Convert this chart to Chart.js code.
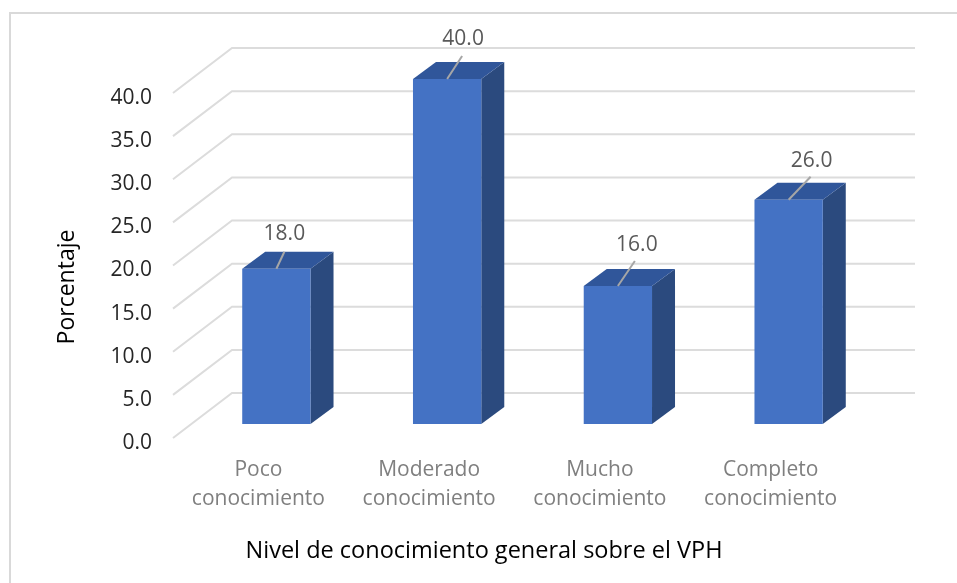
<!DOCTYPE html>
<html>
<head>
<meta charset="utf-8">
<style>
  html, body { margin: 0; background: #fff; }
  canvas { display: block; }
</style>
<script src="https://cdn.jsdelivr.net/npm/chart.js@4"></script>
</head>
<body>
<canvas id="canvas" width="957" height="583"></canvas>
<script>
const categories = [['Poco', 'conocimiento'], ['Moderado', 'conocimiento'], ['Mucho', 'conocimiento'], ['Completo', 'conocimiento']];
const values = [18, 40, 16, 26];
const yTicks = [0, 5, 10, 15, 20, 25, 30, 35, 40];

const yTitle = 'Porcentaje';
const xTitle = 'Nivel de conocimiento general sobre el VPH';

// wall offset of the fake 3D box, and bar depth
const wall = { dx: 59, dy: -45 };
const shift = { dx: 18, dy: -14 };
const depth = { dx: 23, dy: -17 };
// leader line end and label centre, relative to the front top middle of each bar
const leaders = [[8, -17, 8, -35], [15, -23, 16, -40], [17, -25, 19, -41], [22, -23, 23, -39]];

const fontName = '"Open Sans", sans-serif';

const box3d = {
    id: 'box3d',
    beforeDraw(chart) {
        const ctx = chart.ctx;
        ctx.save();
        ctx.strokeStyle = '#d9d9d9';
        ctx.lineWidth = 2;
        ctx.beginPath();
        ctx.moveTo(10, 583);
        ctx.lineTo(10, 13);
        ctx.lineTo(957, 13);
        ctx.stroke();
        ctx.restore();
    },
    beforeDatasetsDraw(chart) {
        const ctx = chart.ctx, y = chart.scales.y, area = chart.chartArea;
        ctx.save();
        // back wall grid lines
        ctx.strokeStyle = '#dcdcdc';
        ctx.lineWidth = 2;
        yTicks.forEach(t => {
            const py = y.getPixelForValue(t);
            ctx.beginPath();
            ctx.moveTo(area.left, py);
            ctx.lineTo(area.left + wall.dx, py + wall.dy);
            ctx.lineTo(area.right + wall.dx, py + wall.dy);
            ctx.stroke();
        });
        // side and top of the bars
        chart.getDatasetMeta(0).data.forEach(bar => {
            const p = bar.getProps(['x', 'y', 'base', 'width']);
            const l = p.x - p.width / 2 + shift.dx, r = p.x + p.width / 2 + shift.dx;
            const t = p.y + shift.dy, b = p.base + shift.dy;
            ctx.fillStyle = '#2b4a7e';
            ctx.beginPath();
            ctx.moveTo(r, t);
            ctx.lineTo(r + depth.dx, t + depth.dy);
            ctx.lineTo(r + depth.dx, b + depth.dy);
            ctx.lineTo(r, b);
            ctx.closePath();
            ctx.fill();
            ctx.fillStyle = '#30569a';
            ctx.beginPath();
            ctx.moveTo(l, t);
            ctx.lineTo(l + depth.dx, t + depth.dy);
            ctx.lineTo(r + depth.dx, t + depth.dy);
            ctx.lineTo(r, t);
            ctx.closePath();
            ctx.fill();
        });
        ctx.restore();
    },
    beforeDatasetDraw(chart) {
        chart.ctx.save();
        chart.ctx.translate(shift.dx, shift.dy);
    },
    afterDatasetDraw(chart) {
        chart.ctx.restore();
    },
    afterDatasetsDraw(chart) {
        const ctx = chart.ctx;
        ctx.save();
        ctx.textAlign = 'center';
        ctx.textBaseline = 'middle';
        ctx.font = '21px ' + fontName;
        chart.getDatasetMeta(0).data.forEach((bar, i) => {
            const px = bar.x + shift.dx, py = bar.y + shift.dy;
            const o = leaders[i];
            ctx.strokeStyle = '#a6a6a6';
            ctx.lineWidth = 2;
            ctx.beginPath();
            ctx.moveTo(px, py);
            ctx.lineTo(px + o[0], py + o[1]);
            ctx.stroke();
            ctx.fillStyle = '#595959';
            ctx.fillText(values[i].toFixed(1), px + o[2], py + o[3]);
        });

        // axis titles sit off centre in the original, so they are placed by hand
        ctx.fillStyle = '#000';
        ctx.font = '23.5px ' + fontName;
        ctx.fillText(xTitle, 484, 551);
        ctx.font = '23px ' + fontName;
        ctx.translate(67, 287);
        ctx.rotate(-Math.PI / 2);
        ctx.fillText(yTitle, 0, 0);
        ctx.restore();
    }
};

new Chart(document.getElementById('canvas').getContext('2d'), {
    type: 'bar',
    data: {
        labels: categories,
        datasets: [{
            data: values,
            backgroundColor: '#4472c4',
            barPercentage: 0.4,
            categoryPercentage: 1,
            clip: false
        }]
    },
    options: {
        responsive: false,
        animation: false,
        events: [],
        layout: { padding: { top: 93, right: 101, left: 0, bottom: 0 } },
        plugins: { legend: { display: false }, tooltip: { enabled: false } },
        scales: {
            x: {
                grid: { display: false },
                border: { display: false },
                afterFit(scale) { scale.height = 145; },
                ticks: {
                    color: '#7f7f7f',
                    font: { family: fontName, size: 21, lineHeight: 1.38 },
                    padding: 10,
                    maxRotation: 0,
                    autoSkip: false
                }
            },
            y: {
                min: 0,
                max: 40,
                afterFit(scale) { scale.width = 173; },
                afterBuildTicks(scale) { scale.ticks = yTicks.map(v => ({ value: v })); },
                grid: { display: false },
                border: { display: false },
                ticks: {
                    color: '#262626',
                    font: { family: fontName, size: 21, lineHeight: '10px' },
                    padding: 13,
                    // the blank first line drops the label a little under its grid line
                    callback: v => ['', v.toFixed(1)]
                }
            }
        }
    },
    plugins: [box3d]
});
</script>
</body>
</html>
